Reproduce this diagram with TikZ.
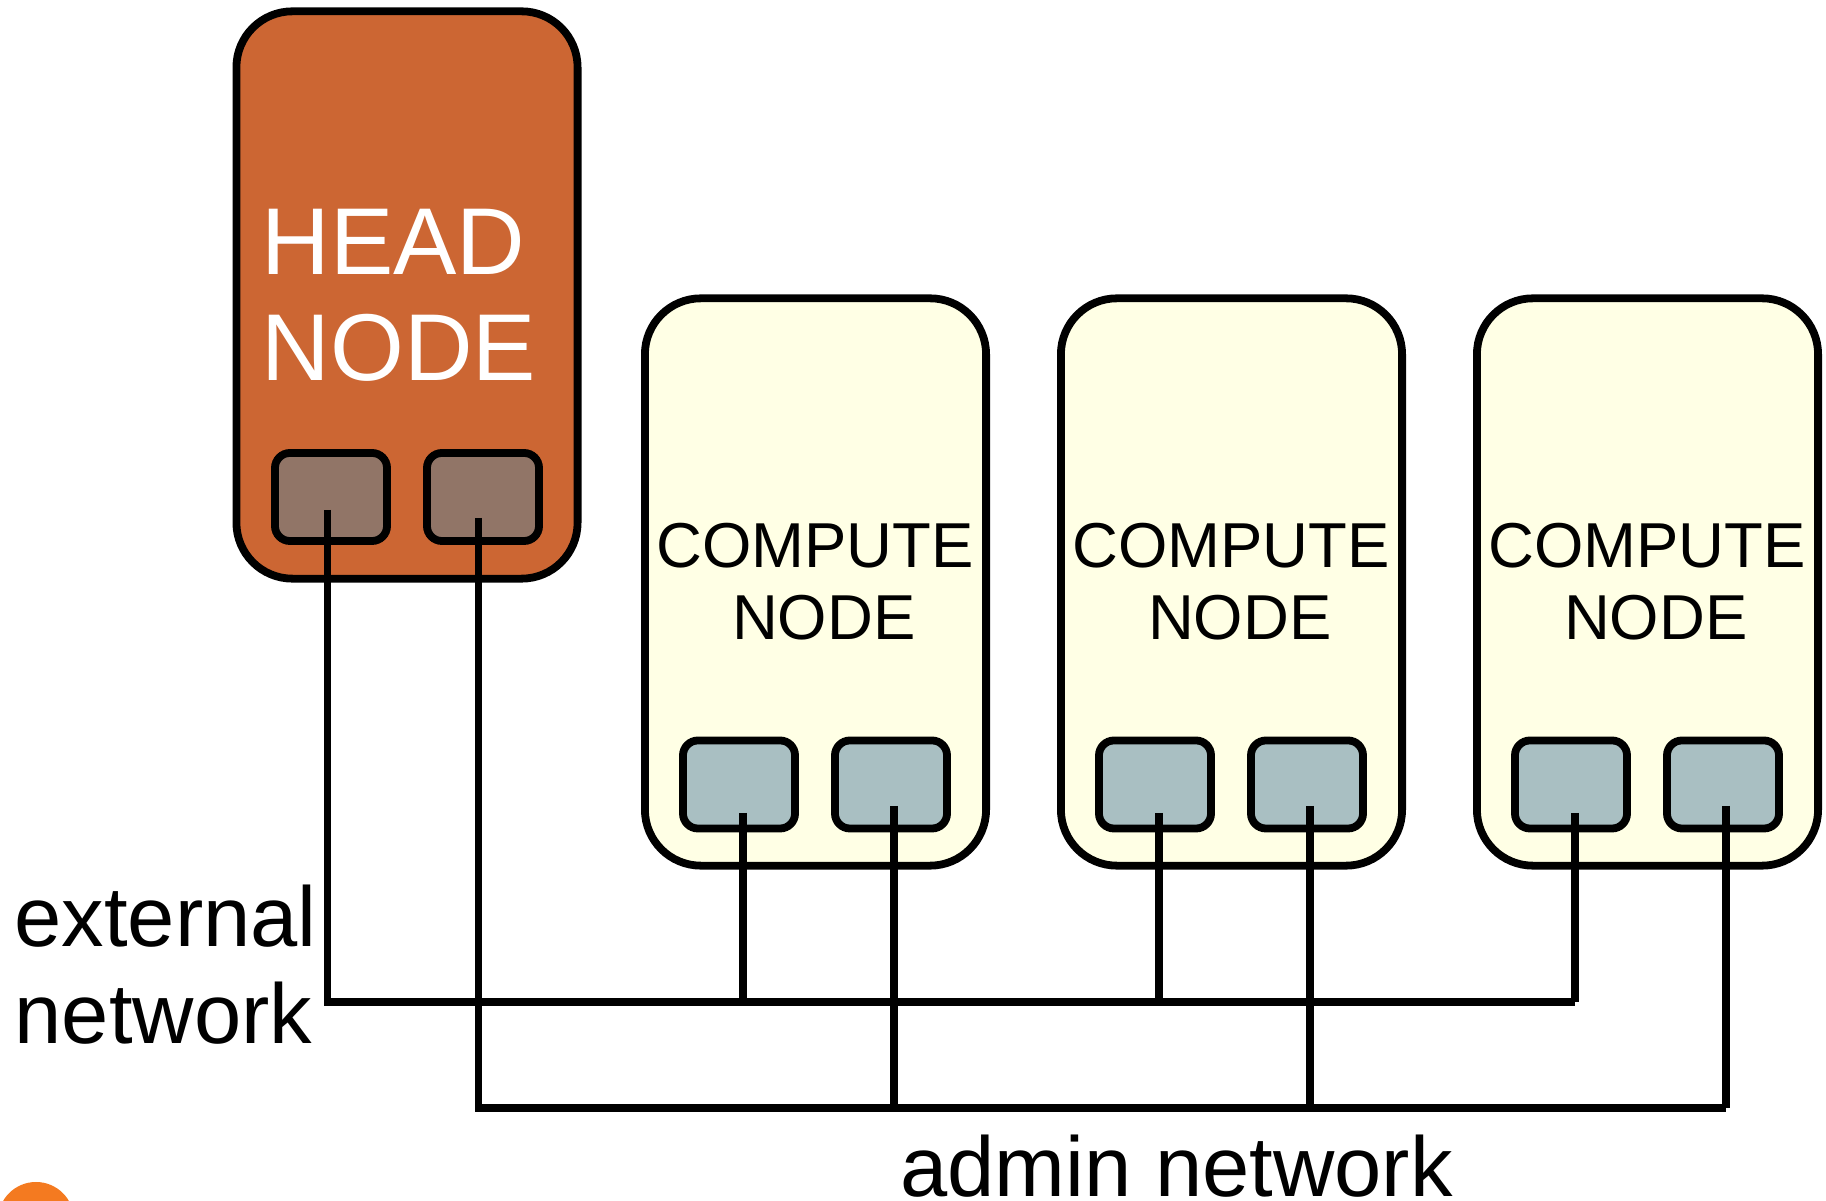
\documentclass[tikz,border=0pt]{standalone}
\usepackage{fontspec}
\setmainfont{Liberation Sans}
\usetikzlibrary{calc, positioning}
\definecolor{headorange}{HTML}{CC6633}
\definecolor{headport}{HTML}{917567}
\definecolor{computeyellow}{HTML}{FFFFE5}
\definecolor{computeport}{HTML}{A9BFC2}
\definecolor{logoorange}{HTML}{F47A20}
\tikzset{
    hostbox/.style={draw, line width=0.078cm, rounded corners=0.56cm, minimum width=3.41cm, minimum height=5.67cm, inner sep=0pt},
    portbox/.style={draw, line width=0.078cm, rounded corners=0.15cm, minimum width=1.12cm, minimum height=0.88cm, inner sep=0pt},
    wire/.style={line width=0.076cm},
    nettext/.style={font=\fontsize{24.15}{27.5}\selectfont, align=left, inner sep=0pt}
}

\begin{document}
\begin{tikzpicture}[x=0.01cm, y=-0.01cm]
            \useasboundingbox (0,0) rectangle (1826,1201);
            \begin{scope}
                \clip (0,0) rectangle (1826,1201);
                \fill[logoorange] (36,1220) circle (38);
            \end{scope}

            % Head node
            \node[hostbox, fill=headorange] (head) at (407,295) {};
            \node[font=\fontsize{27}{30.2}\selectfont, text=white, align=left, inner sep=0pt, anchor=west] (headtext) at (261,295) {HEAD\\NODE};
            \node[portbox, fill=headport] (headext) at (331,497) {};
            \node[portbox, fill=headport] (headadm) at (483,497) {};
            \coordinate (headextend) at (327.5,510);
            \coordinate (headadmend) at (478.5,518);

            % Bus lines
            \coordinate (extleft) at (327.5,1002);
            \coordinate (admleft) at (478.5,1108);

            % Compute nodes
            \foreach \x/\c in {0/a, 416/b, 832/c} {
                \node[hostbox, fill=computeyellow] (comp\c) at (\x+815.5,582) {};
                \node[font=\fontsize{18.05}{20.5}\selectfont, align=center, inner sep=0pt] (comptext\c) at (\x+815,582) {COMPUTE\\~NODE};
                \node[portbox, fill=computeport] (ext\c) at (\x+739,784.5) {};
                \node[portbox, fill=computeport] (adm\c) at (\x+891,784.5) {};
                \coordinate (extend\c) at (\x+743,813);
                \coordinate (admend\c) at (\x+894,806);
                \draw[wire] (extend\c) -- (extend\c |- extleft);
                \draw[wire] (admend\c) -- (admend\c |- admleft);
            }

            % Networks
            \draw[wire] (headextend) -- (extleft) -- (extleft -| extendc);
            \draw[wire] (headadmend) -- (admleft) -- (admleft -| admendc);

            % Labels
            \node[nettext, anchor=west] (extlabel) at (14,965) {external\\network};
            \node[nettext, anchor=base] (admlabel) at (1176.5,1197) {admin network};
        \end{tikzpicture}
\end{document}
